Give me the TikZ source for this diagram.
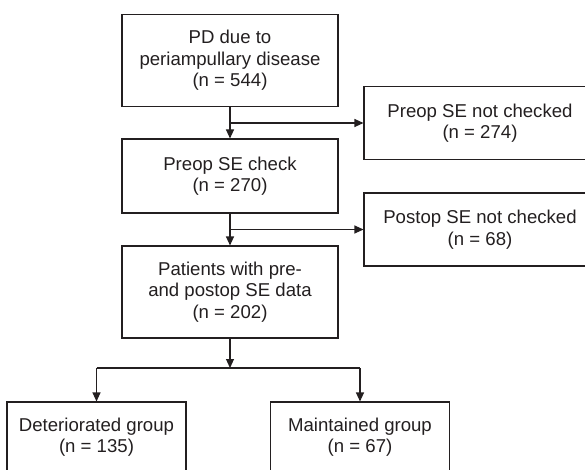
\documentclass[tikz,border=0pt]{standalone}
\usepackage{fontspec}
\setmainfont{Liberation Sans}
\usetikzlibrary{arrows.meta}
\definecolor{ink}{HTML}{231F20}
\tikzset{
  box/.style={draw=ink, line width=1.1pt, rectangle, inner sep=0pt,
    text=ink, align=center, font=\fontsize{18.6}{21.5}\selectfont},
  flow/.style={draw=ink, line width=1.1pt, -{Triangle[length=9pt,width=8pt]}},
  link/.style={draw=ink, line width=1.1pt}
}
\begin{document}
\begin{tikzpicture}[x=1pt,y=-1pt]
\useasboundingbox (0,0) rectangle (585,470);

% main column
\node[box, minimum width=216, minimum height=91.5] (b1) at (230,60.5)
  {PD due to\\periampullary disease\\(n = 544)};
\node[box, minimum width=216, minimum height=74] (b2) at (230,176)
  {Preop SE check\\(n = 270)};
\node[box, minimum width=216, minimum height=92] (b3) at (230,292)
  {Patients with pre-\\and postop SE data\\(n = 202)};

% exclusions on the right (boxes run past the right edge)
\node[box, minimum width=232, minimum height=72.5] (x1) at (480,123)
  {Preop SE not checked\\(n = 274)};
\node[box, minimum width=232, minimum height=73] (x2) at (480,229.5)
  {Postop SE not checked\\(n = 68)};

% resulting groups (boxes run past the lower edge)
\node[box, minimum width=179, minimum height=70] (g1) at (96.5,437)
  {Deteriorated group\\(n = 135)};
\node[box, minimum width=179, minimum height=70] (g2) at (360,437)
  {Maintained group\\(n = 67)};

% junctions
\coordinate (j1) at (230,123);
\coordinate (j2) at (230,229.5);
\coordinate (j3) at (230,368);

\draw[link] (b1.south) -- (j1);
\draw[flow] (j1) -- (b2.north);
\draw[flow] (j1) -- (x1.west);

\draw[link] (b2.south) -- (j2);
\draw[flow] (j2) -- (b3.north);
\draw[flow] (j2) -- (x2.west);

\draw[flow] (b3.south) -- (j3);
\draw[link] (j3 -| g1.north) -- (j3 -| g2.north);
\draw[flow] (j3 -| g1.north) -- (g1.north);
\draw[flow] (j3 -| g2.north) -- (g2.north);
\end{tikzpicture}
\end{document}
